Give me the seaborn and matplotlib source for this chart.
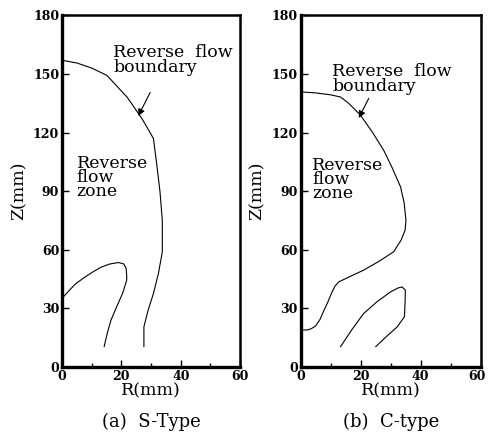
import matplotlib
matplotlib.use("Agg")
import matplotlib.pyplot as plt
import matplotlib.transforms as mtransforms
import seaborn as sns
import pandas as pd
from matplotlib.ticker import MultipleLocator

# ---- data ----
# (a) S-Type
s_outer_r = [0.0, 5.0, 10.0, 15.1, 22.0, 27.0, 30.8, 31.9, 33.0, 33.8, 33.8, 32.5, 30.8, 29.0, 27.6, 27.6]
s_outer_z = [157.0, 155.6, 153.0, 149.3, 138.0, 127.0, 117.0, 104.0, 90.0, 75.0, 59.0, 48.0, 37.6, 29.0, 20.6, 10.4]
s_inner_r = [0.0, 2.0, 4.5, 7.2, 10.0, 13.0, 16.0, 19.0, 20.8, 21.6, 21.8, 21.8, 20.5, 18.4, 16.5, 15.2, 14.2]
s_inner_z = [35.1, 38.5, 42.5, 45.5, 48.3, 51.0, 52.7, 53.5, 52.8, 50.6, 47.0, 44.5, 38.0, 30.8, 24.0, 17.0, 10.4]
# (b) C-type
c_outer_r = [0.0, 5.0, 10.0, 13.3, 16.0, 20.0, 24.0, 27.7, 30.5, 33.3, 34.5, 35.1, 34.8, 33.5, 31.0,
             26.0, 21.0, 16.0, 12.7, 11.5, 10.5, 9.0, 7.8, 6.5, 5.0, 3.5, 2.2, 0.0]
c_outer_z = [140.8, 140.3, 139.3, 138.2, 135.0, 128.8, 120.0, 110.9, 102.0, 92.2, 84.0, 75.0, 70.0, 65.0, 59.0,
             54.0, 49.6, 46.0, 43.6, 41.5, 38.5, 33.0, 29.1, 24.5, 21.0, 19.6, 19.0, 18.9]
c_inner_r = [13.3, 17.0, 21.0, 25.5, 30.0, 32.5, 33.8, 34.9, 34.8, 34.6, 32.2, 28.5, 25.0]
c_inner_z = [10.4, 19.0, 27.4, 33.5, 38.5, 40.5, 41.0, 39.4, 33.0, 25.8, 20.6, 15.5, 10.4]

x_ticks = [0, 20, 40, 60]
y_ticks = [0, 30, 60, 90, 120, 150, 180]
panel_titles = ["(a)  S-Type", "(b)  C-type"]

sns.set_style("ticks")
plt.rcParams["font.family"] = ["DejaVu Serif", "DejaVu Sans"]
plt.rcParams["text.color"] = "black"
plt.rcParams["axes.labelcolor"] = "black"
plt.rcParams["xtick.color"] = "black"
plt.rcParams["ytick.color"] = "black"
plt.rcParams["axes.edgecolor"] = "black"

fig = plt.figure(figsize=(4.88, 4.37), dpi=100)
ax1 = fig.add_axes([0.127, 0.160, 0.365, 0.805])
ax2 = fig.add_axes([0.616, 0.160, 0.369, 0.805])

panels = [
    (ax1, [(s_outer_r, s_outer_z), (s_inner_r, s_inner_z)]),
    (ax2, [(c_outer_r, c_outer_z), (c_inner_r, c_inner_z)]),
]

for i, (ax, curves) in enumerate(panels):
    for r, z in curves:
        df = pd.DataFrame({"R": r, "Z": z})
        sns.lineplot(data=df, x="R", y="Z", sort=False, estimator=None,
                     color="black", lw=0.8, ax=ax)
    ax.set_xlim(0, 60)
    ax.set_ylim(0, 180)
    ax.set_xticks(x_ticks)
    ax.set_yticks(y_ticks)
    ax.xaxis.set_minor_locator(MultipleLocator(10))
    ax.tick_params(axis="both", which="major", direction="in", length=5,
                   width=1, pad=2, labelsize=9, colors="black")
    ax.tick_params(axis="x", which="minor", direction="in", length=3, width=1,
                   colors="black")
    for lab in ax.get_xticklabels() + ax.get_yticklabels():
        lab.set_fontweight("bold")
    for side in ["left", "bottom"]:
        ax.spines[side].set_linewidth(2.4)
        ax.spines[side].set_color("black")
    for side in ["top", "right"]:
        ax.spines[side].set_linewidth(1.8)
        ax.spines[side].set_visible(True)
        ax.spines[side].set_color("black")
    ax.set_xlabel("R(mm)", fontsize=12.5, labelpad=0, color="black")
    ax.set_ylabel("Z(mm)", fontsize=12.5, labelpad=4, color="black")
    ax.text(0.5, -0.13, panel_titles[i], transform=ax.transAxes,
            ha="center", va="top", fontsize=13, color="black")

# keep the last x tick label of the right panel inside the figure
last = ax2.get_xticklabels()[-1]
last.set_transform(last.get_transform() +
                   mtransforms.ScaledTranslation(-4 / 100, 0, fig.dpi_scale_trans))

# annotations
ax1.text(17.3, 165.5, "Reverse  flow\nboundary", fontsize=12.5, va="top",
         ha="left", linespacing=0.85, color="black")
ax1.annotate("", xy=(25.7, 128.5), xytext=(29.7, 140.5),
             arrowprops=dict(arrowstyle="-|>", lw=0.8, color="black",
                             mutation_scale=10, shrinkA=0, shrinkB=0))
ax1.text(4.9, 108.5, "Reverse\nflow\nzone", fontsize=12.5, va="top",
         ha="left", linespacing=0.78, color="black")

ax2.text(10.5, 155.5, "Reverse  flow\nboundary", fontsize=12.5, va="top",
         ha="left", linespacing=0.85, color="black")
ax2.annotate("", xy=(19.4, 127.5), xytext=(22.7, 137.5),
             arrowprops=dict(arrowstyle="-|>", lw=0.8, color="black",
                             mutation_scale=10, shrinkA=0, shrinkB=0))
ax2.text(3.9, 107.5, "Reverse\nflow\nzone", fontsize=12.5, va="top",
         ha="left", linespacing=0.78, color="black")

fig.savefig("out.png", dpi=100)
